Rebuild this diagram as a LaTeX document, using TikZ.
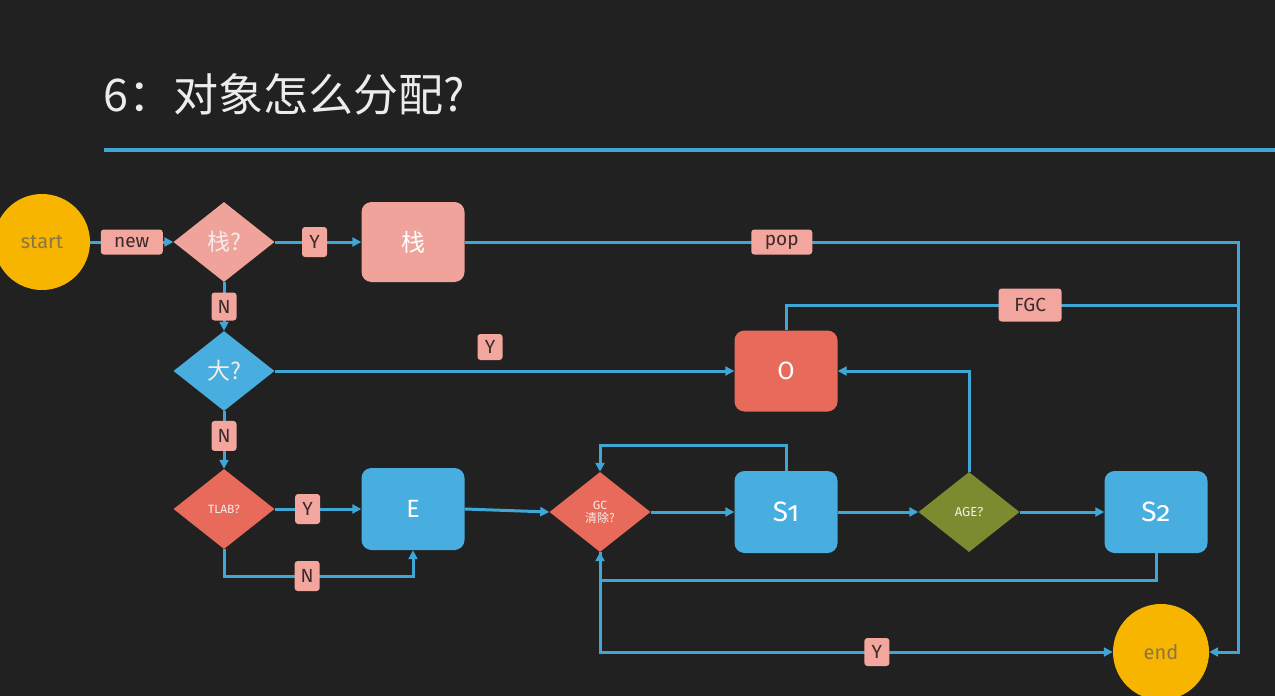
\documentclass[tikz,border=0pt]{standalone}
\usepackage{fontspec}
\setmainfont{Fira Sans}
\newfontfamily\cjk{Noto Sans CJK SC}
\newfontfamily\osf[Numbers=OldStyle]{Fira Sans}
\usetikzlibrary{shapes.geometric,arrows.meta}
\definecolor{board}{HTML}{212121}
\definecolor{wire}{HTML}{3FA7D6}
\definecolor{sky}{HTML}{47AEDF}
\definecolor{rose}{HTML}{EFA39B}
\definecolor{coral}{HTML}{E86A5B}
\definecolor{olive}{HTML}{7C8A30}
\definecolor{gold}{HTML}{F8B500}
\definecolor{tagfill}{HTML}{F2A69E}
\definecolor{tagtext}{HTML}{3A2A2A}
\definecolor{goldtext}{HTML}{8A7548}
\definecolor{chalk}{HTML}{ECECEC}
\definecolor{softwhite}{HTML}{F6ECE8}
\begin{document}
\begin{tikzpicture}[x=1pt,y=-1pt,
  box/.style={rectangle, rounded corners=10pt, minimum width=103pt, minimum height=81pt,
    inner sep=0pt, text=white, font=\fontsize{25}{25}\selectfont},
  dia/.style={diamond, minimum width=101pt, minimum height=80pt, inner sep=0pt,
    text=softwhite, font=\fontsize{12}{14}\selectfont, align=center},
  tag/.style={rectangle, rounded corners=3pt, fill=tagfill, text=tagtext, inner sep=0pt,
    minimum width=25pt, minimum height=28pt, font=\fontsize{19}{19}\selectfont},
  disc/.style={circle, minimum size=96pt, inner sep=0pt, fill=gold, text=goldtext,
    font=\fontsize{20}{20}\selectfont},
  wireline/.style={draw=wire, line width=3pt},
  conn/.style={wireline, -{Triangle[length=9pt,width=9pt]}}]
\clip (0,0) rectangle (1275,696);
\fill[board] (0,0) rectangle (1275,696);

% heading and rule
\node[anchor=base west, inner sep=0pt, text=chalk, font=\cjk\fontsize{45}{45}\selectfont]
  (title) at (103,111) {6：对象怎么分配?};
\draw[wireline, line width=3.5pt] (104,150) -- (1275,150);

% terminals
\node[disc] (start) at (42,242) {start};
\node[disc] (end) at (1161,652) {end};

% decisions
\node[dia, fill=rose, font=\cjk\fontsize{23}{23}\selectfont] (qstack) at (224,242) {栈?};
\node[dia, fill=sky, font=\cjk\fontsize{23}{23}\selectfont] (qbig) at (224,371) {大?};
\node[dia, fill=coral] (qtlab) at (224,509) {TLAB?};
\node[dia, fill=coral] (qgc) at (600,512) {GC\\[-1pt]{\cjk 清除?}};
\node[dia, fill=olive, font=\fontsize{13}{13}\selectfont] (qage) at (969,512) {AGE?};

% memory areas
\node[box, fill=rose, minimum height=80pt, font=\cjk\fontsize{24}{24}\selectfont] (stk) at (413,242) {栈};
\node[box, fill=coral] (old) at (786,371) {O};
\node[box, fill=sky, minimum height=82pt] (eden) at (413,509) {E};
\node[box, fill=sky, minimum height=82pt, font=\osf\fontsize{28}{28}\selectfont] (sone) at (786,512) {S1};
\node[box, fill=sky, minimum height=82pt, font=\osf\fontsize{28}{28}\selectfont] (stwo) at (1156,512) {S2};

% connectors
\draw[conn] (start) -- node[tag, minimum width=62pt, minimum height=25pt] (lnew) {new} (qstack);
\draw[conn] (qstack) -- node[tag, minimum height=30pt, pos=0.46] (ly1) {Y} (stk);
\draw[conn] (stk.east) -- node[tag, minimum width=61pt, minimum height=25pt, pos=0.41] (lpop) {pop}
  (1238,242) |- (end.east);
\draw[conn] (qstack) -- node[tag, pos=0.5] (ln1) {N} (qbig);
\draw[conn] (qbig) -- (old);
\node[tag, minimum height=26pt] (ly2) at (490,347) {Y};
\draw[wireline] (old.north) |- node[tag, minimum width=63pt, minimum height=33pt, pos=0.77] (lfgc) {FGC}
  (1238,305);
\draw[conn] (qbig) -- node[tag, minimum height=30pt, pos=0.43] (ln2) {N} (qtlab);
\draw[conn] (qtlab) -- node[tag, minimum height=30pt, pos=0.38] (ly3) {Y} (eden);
\draw[conn] (qtlab.south) -- (224,576) -| node[tag, minimum height=30pt, pos=0.22] (ln3) {N} (eden.south);
\draw[conn] (eden.east) -- (qgc.west);
\draw[conn] (qgc) -- (sone);
\draw[conn] (sone.north) -- (786,445) -| (qgc.north);
\draw[conn] (sone) -- (qage);
\draw[conn] (qage.north) |- (old.east);
\draw[conn] (qage) -- (stwo);
\draw[conn] (stwo.south) -- (1156,580) -| (qgc.south);
\draw[conn] (qgc.south) |- node[tag, pos=0.77] (ly4) {Y} (end.west);
\end{tikzpicture}
\end{document}
